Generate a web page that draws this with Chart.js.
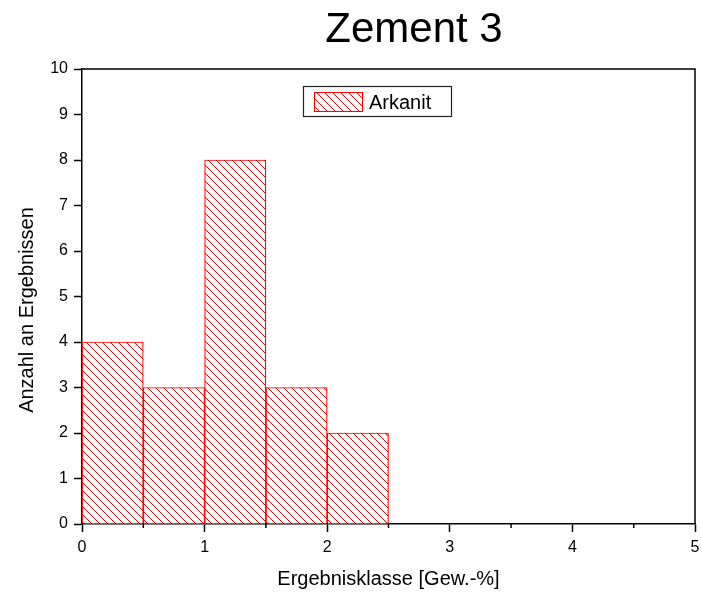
<!DOCTYPE html>
<html>
<head>
<meta charset="utf-8">
<script src="https://cdn.jsdelivr.net/npm/chart.js@4/dist/chart.umd.min.js"></script>
<style>
  body { margin: 0; background: #fff; }
</style>
</head>
<body>
<canvas id="histChart" width="702" height="597"></canvas>
<script>
// data
var chartTitle = "Zement 3";
var seriesName = "Arkanit";
var binStart = [0, 0.5, 1, 1.5, 2];
var binWidth = 0.5;
var counts = [4, 3, 8, 3, 2];
var xTicks = [0, 1, 2, 3, 4, 5];
var yTicks = [0, 1, 2, 3, 4, 5, 6, 7, 8, 9, 10];
var xTitle = "Ergebnisklasse [Gew.-%]";
var yTitle = "Anzahl an Ergebnissen";

var red = "#ff0000";
var fontFam = '"Liberation Sans", Arial, Helvetica, sans-serif';

function makeHatch(color) {
  var c = document.createElement("canvas");
  c.width = 8;
  c.height = 8;
  var g = c.getContext("2d");
  g.fillStyle = "#fff";
  g.fillRect(0, 0, 8, 8);
  g.strokeStyle = color;
  g.lineWidth = 1;
  g.beginPath();
  g.moveTo(0, 0); g.lineTo(8, 8);
  g.moveTo(-1, 7); g.lineTo(1, 9);
  g.moveTo(7, -1); g.lineTo(9, 1);
  g.stroke();
  return g.createPattern(c, "repeat");
}
var hatch = makeHatch(red);

var points = binStart.map(function (s, i) {
  return { x: s + binWidth / 2, y: counts[i] };
});

// frame, minor ticks, title, y title and boxed legend
var extras = {
  id: "extras",
  afterDraw: function (chart) {
    var ctx = chart.ctx;
    var ca = chart.chartArea;
    var xs = chart.scales.x;
    ctx.save();

    ctx.strokeStyle = "#000";
    ctx.lineWidth = 1.5;
    ctx.beginPath();
    ctx.moveTo(ca.left, ca.top);
    ctx.lineTo(ca.right, ca.top);
    ctx.lineTo(ca.right, ca.bottom);
    ctx.stroke();

    ctx.beginPath();
    for (var i = 0; i < xTicks.length - 1; i++) {
      var px = xs.getPixelForValue((xTicks[i] + xTicks[i + 1]) / 2);
      ctx.moveTo(px, ca.bottom);
      ctx.lineTo(px, ca.bottom + 4);
    }
    ctx.stroke();

    ctx.fillStyle = "#000";
    ctx.textBaseline = "alphabetic";
    ctx.textAlign = "center";
    ctx.font = "42px " + fontFam;
    ctx.fillText(chartTitle, 414, 42);

    ctx.save();
    ctx.translate(33, 310);
    ctx.rotate(-Math.PI / 2);
    ctx.font = "20px " + fontFam;
    ctx.fillText(yTitle, 0, 0);
    ctx.restore();

    var lx = ca.left + 221, ly = ca.top + 17;
    ctx.strokeStyle = "#222";
    ctx.lineWidth = 1.2;
    ctx.strokeRect(lx + 0.5, ly + 0.5, 148, 30);
    ctx.fillStyle = hatch;
    ctx.fillRect(lx + 11, ly + 6, 48, 19);
    ctx.strokeStyle = red;
    ctx.lineWidth = 1;
    ctx.strokeRect(lx + 11.5, ly + 6.5, 48, 19);
    ctx.fillStyle = "#000";
    ctx.textAlign = "left";
    ctx.font = "20px " + fontFam;
    ctx.fillText(seriesName, lx + 66, ly + 23);
    ctx.restore();
  }
};

var ctx = document.getElementById("histChart").getContext("2d");
var myChart = new Chart(ctx, {
  type: "bar",
  data: {
    datasets: [
      {
        label: seriesName,
        data: points,
        backgroundColor: hatch,
        borderColor: red,
        borderWidth: 1.2,
        barPercentage: 1,
        categoryPercentage: 1,
      },
    ],
  },
  options: {
    responsive: false,
    animation: false,
    layout: { padding: { top: 69, right: 7, left: 0, bottom: 0 } },
    plugins: {
      legend: { display: false },
      tooltip: { enabled: false },
    },
    scales: {
      x: {
        type: "linear",
        min: xTicks[0],
        max: xTicks[xTicks.length - 1],
        offset: false,
        afterFit: function (scale) {
          scale.height = 73;
          scale.paddingLeft = 0;
          scale.paddingRight = 0;
        },
        ticks: {
          stepSize: 1,
          color: "#000",
          padding: 6,
          font: { family: fontFam, size: 16 },
        },
        grid: {
          offset: false,
          drawOnChartArea: false,
          drawTicks: true,
          tickLength: 8,
          tickWidth: 1.5,
          tickColor: "#000",
        },
        border: { display: true, color: "#000", width: 1.5 },
        title: {
          display: true,
          text: xTitle,
          color: "#000",
          font: { family: fontFam, size: 20 },
          padding: { top: 0, bottom: 6 },
        },
      },
      y: {
        min: yTicks[0],
        max: yTicks[yTicks.length - 1],
        afterFit: function (scale) {
          scale.width = 82;
          scale.paddingTop = 0;
          scale.paddingBottom = 0;
        },
        ticks: {
          stepSize: 1,
          color: "#000",
          padding: 6,
          font: { family: fontFam, size: 16 },
        },
        grid: {
          drawOnChartArea: false,
          drawTicks: true,
          tickLength: 8,
          tickWidth: 1.5,
          tickColor: "#000",
        },
        border: { display: true, color: "#000", width: 1.5 },
      },
    },
  },
  plugins: [extras],
});
</script>
</body>
</html>
